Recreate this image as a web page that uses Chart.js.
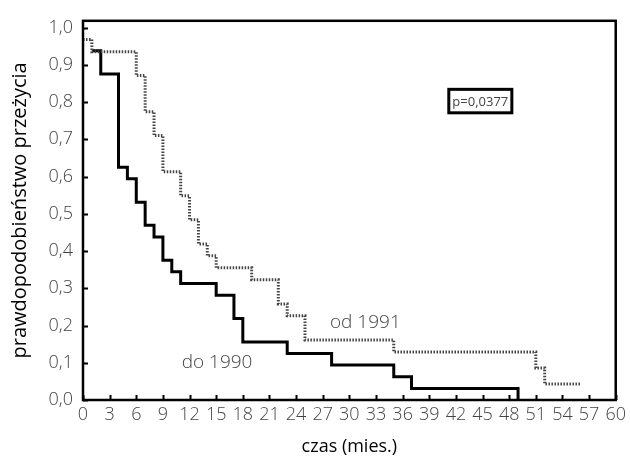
<!DOCTYPE html>
<html>
<head>
<meta charset="utf-8">
<script src="https://cdn.jsdelivr.net/npm/chart.js@4/dist/chart.umd.min.js"></script>
<style>
html,body{margin:0;padding:0;background:#fff;}
#wrap{width:630px;height:461px;position:relative;}
</style>
</head>
<body>
<div id="wrap"><canvas id="c" width="630" height="461"></canvas></div>
<script>
// Kaplan-Meier curves (time in months, survival probability)
const timesDo1990 = [1, 2, 4, 5, 6, 7, 8, 9, 10, 11, 15, 17, 18, 23, 28, 35, 37, 49];
const survDo1990  = [0.9375, 0.875, 0.625, 0.594, 0.531, 0.469, 0.4375, 0.375, 0.344, 0.3125, 0.281, 0.219, 0.156, 0.125, 0.094, 0.0625, 0.031, 0.0];

const timesOd1991 = [0, 1, 6, 7, 8, 9, 11, 12, 13, 14, 15, 19, 22, 23, 25, 35, 51, 52, 56];
const survOd1991  = [0.968, 0.935, 0.871, 0.774, 0.710, 0.613, 0.548, 0.484, 0.419, 0.387, 0.355, 0.323, 0.258, 0.226, 0.161, 0.129, 0.086, 0.043, 0.043];

const xTicks = [0,3,6,9,12,15,18,21,24,27,30,33,36,39,42,45,48,51,54,57,60];
const yTicks = [0,0.1,0.2,0.3,0.4,0.5,0.6,0.7,0.8,0.9,1.0];

const labelOd = 'od 1991', labelDo = 'do 1990', pText = 'p=0,0377';
const xTitle = 'czas (mies.)', yTitle = 'prawdopodobieństwo przeżycia';

const toPts = (t, s) => t.map((x, i) => ({x: x, y: s[i]}));

const FONT = "'Open Sans', 'DejaVu Sans', sans-serif";

const decor = {
  id: 'decor',
  afterDraw(chart) {
    const ctx = chart.ctx, a = chart.chartArea;
    const xs = chart.scales.x, ys = chart.scales.y;
    ctx.save();
    ctx.strokeStyle = '#000';
    ctx.lineWidth = 2.5;
    ctx.strokeRect(a.left, a.top, a.right - a.left, a.bottom - a.top);
    ctx.lineWidth = 2;
    ctx.beginPath();
    xTicks.forEach(v => {
      const px = Math.round(xs.getPixelForValue(v)) + 0.5;
      ctx.moveTo(px, a.bottom); ctx.lineTo(px, a.bottom - 5);
    });
    yTicks.forEach(v => {
      const py = Math.round(ys.getPixelForValue(v)) + 0.5;
      ctx.moveTo(a.left, py); ctx.lineTo(a.left + 5, py);
    });
    ctx.stroke();
    ctx.fillStyle = '#444';
    ctx.font = '300 19px ' + FONT;
    ctx.textAlign = 'center';
    ctx.textBaseline = 'middle';
    ctx.fillText(labelOd, xs.getPixelForValue(31.8), ys.getPixelForValue(0.208));
    ctx.fillText(labelDo, xs.getPixelForValue(15.1), ys.getPixelForValue(0.1));
    const bx1 = xs.getPixelForValue(41.2), bx2 = xs.getPixelForValue(48.3);
    const by1 = ys.getPixelForValue(0.834), by2 = ys.getPixelForValue(0.771);
    ctx.lineWidth = 3;
    ctx.strokeStyle = '#000';
    ctx.strokeRect(bx1, by1, bx2 - bx1, by2 - by1);
    ctx.font = '13px ' + FONT;
    ctx.fillStyle = '#444';
    ctx.fillText(pText, (bx1 + bx2) / 2, (by1 + by2) / 2 + 1);
    ctx.restore();
  }
};

new Chart(document.getElementById('c'), {
  type: 'line',
  data: {
    datasets: [
      {
        label: labelOd,
        data: toPts(timesOd1991, survOd1991),
        stepped: 'before',
        borderColor: '#444',
        borderWidth: 3,
        borderDash: [1.5, 1.5],
        pointRadius: 0,
        fill: false
      },
      {
        label: labelDo,
        data: toPts(timesDo1990, survDo1990),
        stepped: 'before',
        borderColor: '#000',
        borderWidth: 3,
        pointRadius: 0,
        fill: false
      }
    ]
  },
  options: {
    responsive: false,
    animation: false,
    devicePixelRatio: 1,
    layout: { padding: { top: 13, right: 13, left: 0, bottom: 0 } },
    plugins: { legend: { display: false }, tooltip: { enabled: false }, decor: {} },
    scales: {
      x: {
        type: 'linear',
        min: 0, max: 60,
        grid: { display: false, drawTicks: false },
        border: { display: false },
        afterBuildTicks: s => { s.ticks = xTicks.map(v => ({value: v})); },
        afterFit: s => { s.height = 61; },
        ticks: {
          padding: 4,
          maxRotation: 0,
          autoSkip: false,
          color: '#444',
          font: { family: FONT, size: 18, weight: '300' },
          callback: v => String(v)
        },
        title: {
          display: true,
          text: xTitle,
          color: '#000',
          font: { family: FONT, size: 18 },
          padding: { top: 0, bottom: 3 }
        }
      },
      y: {
        type: 'linear',
        min: 0, max: 1.018,
        grid: { display: false, drawTicks: false },
        border: { display: false },
        afterBuildTicks: s => { s.ticks = yTicks.map(v => ({value: v})); },
        afterFit: s => { s.width = 83; },
        ticks: {
          padding: 10,
          autoSkip: false,
          color: '#444',
          font: { family: FONT, size: 18, weight: '300' },
          callback: v => v.toFixed(1).replace('.', ',')
        },
        title: {
          display: true,
          text: yTitle,
          color: '#000',
          font: { family: FONT, size: 20 },
          padding: { top: 8, bottom: 0 }
        }
      }
    }
  },
  plugins: [decor]
});
</script>
</body>
</html>
